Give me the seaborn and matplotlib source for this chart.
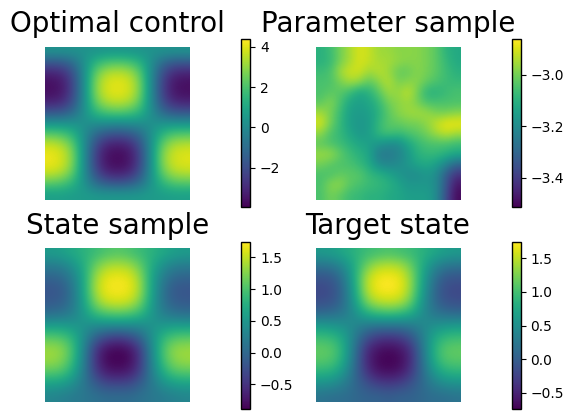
#Figura de cuatro paneles con barra de color
import numpy as np
import matplotlib
matplotlib.use("Agg")
import matplotlib.pyplot as plt
import seaborn as sns

titulos = ["Optimal control", "Parameter sample", "State sample", "Target state"]

control = [
    [0.3, 0.3, 0.3, 0.3, 0.3, 0.4, 0.4, 0.4, 0.3, 0.3, 0.3, 0.3, 0.3],
    [-2.0, -1.9, -1.2, 0.2, 1.6, 2.2, 2.4, 2.2, 1.6, 0.2, -1.2, -1.9, -2.0],
    [-3.4, -3.2, -2.1, 0.1, 2.5, 3.6, 3.8, 3.6, 2.5, 0.1, -2.1, -3.2, -3.4],
    [-3.7, -3.5, -2.3, 0.1, 2.8, 3.9, 4.1, 3.9, 2.8, 0.1, -2.3, -3.5, -3.7],
    [-3.4, -3.2, -2.1, 0.1, 2.5, 3.6, 3.8, 3.6, 2.5, 0.1, -2.1, -3.2, -3.4],
    [-2.0, -1.9, -1.2, 0.2, 1.6, 2.2, 2.4, 2.2, 1.6, 0.2, -1.2, -1.9, -2.0],
    [0.3, 0.3, 0.3, 0.2, 0.2, 0.2, 0.1, 0.2, 0.2, 0.2, 0.3, 0.3, 0.3],
    [2.4, 2.2, 1.5, 0.2, -1.2, -1.9, -2.1, -1.9, -1.2, 0.2, 1.5, 2.2, 2.3],
    [3.9, 3.6, 2.5, 0.2, -2.1, -3.3, -3.5, -3.3, -2.1, 0.2, 2.5, 3.5, 3.7],
    [4.2, 3.9, 2.8, 0.2, -2.4, -3.6, -3.8, -3.6, -2.4, 0.2, 2.8, 3.8, 4.0],
    [3.9, 3.6, 2.5, 0.2, -2.1, -3.3, -3.5, -3.3, -2.1, 0.2, 2.5, 3.5, 3.7],
    [2.4, 2.2, 1.5, 0.3, -1.1, -1.8, -2.0, -1.8, -1.1, 0.3, 1.5, 2.2, 2.3],
    [0.7, 0.7, 0.6, 0.6, 0.5, 0.5, 0.5, 0.5, 0.5, 0.6, 0.6, 0.7, 0.7],
]

parametro = [
    [-3.1, -3.07, -3.0, -2.95, -2.9, -2.92, -2.96, -2.96, -2.98, -2.98, -2.98, -3.0, -3.03, -3.1, -3.12],
    [-3.1, -3.08, -3.0, -2.95, -2.9, -2.92, -2.95, -2.95, -2.97, -2.98, -2.98, -3.0, -3.03, -3.08, -3.12],
    [-3.07, -3.05, -2.95, -2.91, -2.91, -2.96, -2.93, -2.96, -3.02, -3.02, -2.98, -3.0, -3.03, -3.07, -3.1],
    [-3.05, -3.05, -3.0, -2.95, -2.97, -3.03, -2.98, -2.93, -3.0, -2.98, -2.98, -3.02, -3.05, -3.07, -3.08],
    [-3.05, -3.03, -3.03, -3.07, -3.13, -3.1, -3.03, -2.96, -2.97, -2.92, -3.0, -3.1, -3.1, -3.07, -3.05],
    [-3.03, -2.98, -3.05, -3.13, -3.15, -3.13, -3.08, -3.0, -2.98, -2.96, -3.0, -3.05, -3.05, -3.05, -3.05],
    [-2.95, -3.0, -3.07, -3.15, -3.16, -3.15, -3.1, -3.03, -2.98, -2.96, -2.95, -2.96, -3.0, -3.0, -2.98],
    [-2.9, -3.0, -3.08, -3.15, -3.17, -3.16, -3.08, -3.03, -3.02, -3.0, -3.0, -2.97, -2.92, -2.88, -2.88],
    [-2.97, -3.05, -3.08, -3.13, -3.17, -3.15, -3.08, -3.05, -3.07, -3.05, -3.03, -3.0, -2.95, -2.92, -2.95],
    [-3.03, -3.05, -3.07, -3.1, -3.13, -3.15, -3.17, -3.2, -3.2, -3.13, -3.08, -3.05, -3.05, -3.05, -3.07],
    [-2.96, -2.96, -3.02, -3.07, -3.1, -3.13, -3.25, -3.25, -3.23, -3.17, -3.1, -3.08, -3.08, -3.1, -3.12],
    [-3.0, -3.03, -3.05, -3.05, -3.08, -3.12, -3.2, -3.22, -3.2, -3.17, -3.13, -3.12, -3.15, -3.22, -3.3],
    [-3.05, -3.05, -3.02, -3.03, -3.03, -3.08, -3.1, -3.13, -3.17, -3.2, -3.2, -3.17, -3.2, -3.33, -3.42],
    [-3.05, -2.98, -2.97, -3.03, -3.05, -3.07, -3.08, -3.1, -3.13, -3.17, -3.17, -3.17, -3.2, -3.35, -3.48],
    [-3.05, -3.0, -3.03, -3.07, -3.08, -3.1, -3.1, -3.12, -3.13, -3.15, -3.15, -3.15, -3.2, -3.37, -3.5],
]

estado = [
    [0.55, 0.6, 0.7, 0.8, 0.9, 1.0, 1.05, 1.0, 0.9, 0.8, 0.7, 0.6, 0.55],
    [0.2, 0.25, 0.45, 0.75, 1.15, 1.4, 1.45, 1.4, 1.15, 0.75, 0.45, 0.25, 0.2],
    [-0.05, 0.0, 0.25, 0.7, 1.35, 1.65, 1.7, 1.65, 1.35, 0.7, 0.25, 0.0, -0.05],
    [-0.2, -0.15, 0.15, 0.7, 1.4, 1.7, 1.72, 1.7, 1.4, 0.7, 0.15, -0.15, -0.2],
    [-0.15, -0.1, 0.15, 0.65, 1.25, 1.55, 1.6, 1.55, 1.25, 0.65, 0.15, -0.1, -0.15],
    [0.05, 0.1, 0.25, 0.55, 0.9, 1.05, 1.1, 1.05, 0.9, 0.55, 0.25, 0.1, 0.05],
    [0.55, 0.55, 0.5, 0.45, 0.4, 0.4, 0.4, 0.4, 0.4, 0.45, 0.5, 0.55, 0.55],
    [1.05, 1.0, 0.8, 0.4, -0.05, -0.3, -0.4, -0.3, -0.05, 0.4, 0.8, 1.0, 1.05],
    [1.35, 1.3, 0.95, 0.3, -0.45, -0.78, -0.85, -0.78, -0.45, 0.3, 0.95, 1.3, 1.35],
    [1.35, 1.25, 0.9, 0.25, -0.5, -0.85, -0.88, -0.85, -0.5, 0.25, 0.9, 1.25, 1.35],
    [1.05, 1.0, 0.7, 0.2, -0.4, -0.68, -0.75, -0.68, -0.4, 0.2, 0.7, 1.0, 1.05],
    [0.6, 0.55, 0.4, 0.15, -0.1, -0.3, -0.3, -0.3, -0.1, 0.15, 0.4, 0.55, 0.6],
    [0.3, 0.25, 0.2, 0.15, 0.1, 0.05, 0.05, 0.05, 0.1, 0.15, 0.2, 0.25, 0.3],
]

objetivo = [
    [0.6, 0.65, 0.75, 0.85, 0.95, 1.0, 1.05, 1.0, 0.95, 0.85, 0.75, 0.65, 0.6],
    [0.2, 0.25, 0.45, 0.8, 1.2, 1.45, 1.5, 1.45, 1.2, 0.8, 0.45, 0.25, 0.2],
    [-0.1, -0.05, 0.25, 0.8, 1.45, 1.7, 1.74, 1.68, 1.35, 0.75, 0.25, -0.05, -0.1],
    [-0.2, -0.15, 0.15, 0.75, 1.45, 1.72, 1.75, 1.7, 1.35, 0.7, 0.15, -0.15, -0.2],
    [-0.15, -0.1, 0.15, 0.65, 1.25, 1.5, 1.55, 1.5, 1.2, 0.6, 0.15, -0.1, -0.15],
    [0.1, 0.15, 0.25, 0.5, 0.8, 0.95, 1.0, 0.95, 0.8, 0.5, 0.25, 0.15, 0.1],
    [0.6, 0.55, 0.5, 0.4, 0.3, 0.25, 0.25, 0.25, 0.3, 0.4, 0.5, 0.55, 0.6],
    [0.95, 0.9, 0.7, 0.3, -0.1, -0.3, -0.35, -0.3, -0.1, 0.3, 0.7, 0.9, 0.95],
    [1.15, 1.1, 0.8, 0.2, -0.4, -0.62, -0.68, -0.62, -0.4, 0.2, 0.8, 1.1, 1.15],
    [1.1, 1.05, 0.75, 0.15, -0.45, -0.7, -0.74, -0.7, -0.45, 0.15, 0.75, 1.05, 1.1],
    [0.85, 0.8, 0.55, 0.1, -0.35, -0.6, -0.65, -0.6, -0.35, 0.1, 0.55, 0.8, 0.85],
    [0.5, 0.45, 0.3, 0.1, -0.1, -0.25, -0.3, -0.25, -0.1, 0.1, 0.3, 0.45, 0.5],
    [0.2, 0.15, 0.15, 0.1, 0.05, 0.05, 0.0, 0.05, 0.05, 0.1, 0.15, 0.15, 0.2],
]

datos = [control, parametro, estado, objetivo]
rangos = [(-3.95, 4.36), (-3.515, -2.863), (-0.887, 1.746), (-0.743, 1.748)]

ANCHO, ALTO = 573, 419

def caja(x0, y0, x1, y1):
    return [x0 / ANCHO, 1 - y1 / ALTO, (x1 - x0) / ANCHO, (y1 - y0) / ALTO]

# posiciones en pixeles: imagen y barra de color
cajas = [(45, 46.7, 189.5, 200), (315.7, 46.7, 460, 200), (45, 248.3, 189.5, 401.7), (315.7, 248.3, 460, 401.7)]
barras = [(241.5, 39.3, 250.3, 207.3), (512.3, 39.3, 520.5, 207.3), (241.5, 241.7, 250.3, 409), (512.3, 241.7, 520.5, 409)]

fig = plt.figure(figsize=(ANCHO / 100, ALTO / 100), dpi=100)

for titulo, d, r, c, b in zip(titulos, datos, rangos, cajas, barras):
    ax = fig.add_axes(caja(*c))
    cax = fig.add_axes(caja(*b))
    d = np.array(d)
    sns.heatmap(d, ax=ax, cbar_ax=cax, cmap="viridis", vmin=r[0], vmax=r[1], xticklabels=False, yticklabels=False)
    malla = ax.collections[0]
    # suavizado de la imagen, igual que el original
    n, m = d.shape
    ax.imshow(d, cmap="viridis", norm=malla.norm, extent=(0, m, n, 0), aspect="auto", interpolation="bicubic", zorder=3)
    ax.set_title(titulo, fontsize=20, pad=10.5)
    ax.axis("off")
    cb = malla.colorbar
    cb.outline.set_visible(True)
    cb.outline.set_linewidth(1)
    cb.outline.set_edgecolor("black")
    cax.tick_params(length=3.5, width=0.8, labelsize=10, color="black")

plt.savefig("out.png", dpi=100)
plt.close()
